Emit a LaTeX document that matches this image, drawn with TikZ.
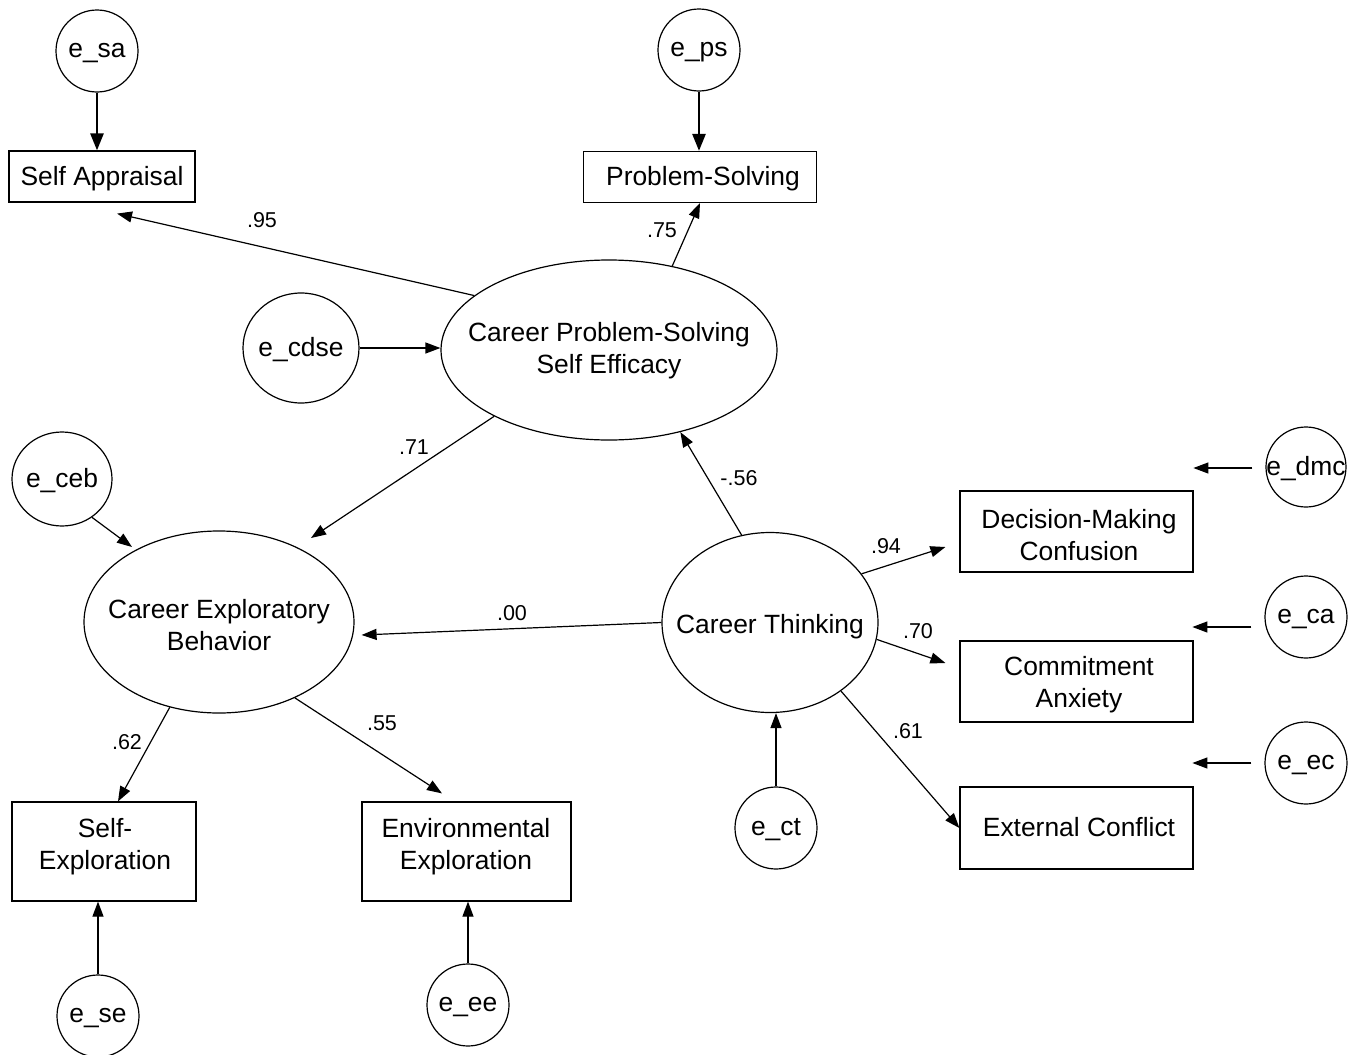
\documentclass[tikz,border=0pt]{standalone}
\usepackage{fontspec}
\setmainfont{Liberation Sans}
\usetikzlibrary{arrows.meta,calc,shapes.geometric}
\newcommand\nodefont{\fontsize{26.4}{32}\selectfont}
\newcommand\coeffont{\fontsize{21.5}{24}\selectfont}
\tikzset{
  latv/.style={draw, ellipse, line width=1.2pt, inner sep=0pt},
  errc/.style={draw, circle, minimum size=82pt, inner sep=0pt, line width=1.2pt},
  obs/.style={draw, rectangle, line width=1.2pt, inner sep=0pt},
  txt/.style={font=\nodefont, inner sep=0pt, align=center},
  arr/.style={line width=1.2pt, -{Triangle[length=15pt,width=11pt]}},
  arrthick/.style={line width=2.6pt, -{Triangle[length=17pt,width=13pt]}},
  coef/.style={font=\coeffont, inner sep=0pt},
}
\begin{document}
\begin{tikzpicture}[x=1pt,y=-1pt]
\useasboundingbox (0,0) rectangle (1353,1055);
% latent variables
\node[latv, minimum width=336pt, minimum height=180pt] (cpse) at (609,350) {};
\node[txt] (cpset) at (609,351) {Career Problem-Solving\\Self Efficacy};
\node[latv, minimum width=270pt, minimum height=182pt] (ceb) at (219,622) {};
\node[txt] (cebt) at (219,625) {Career Exploratory\\Behavior};
\node[latv, minimum width=216pt, minimum height=180pt] (ct) at (770,622.5) {};
\node[txt] (ctt) at (770,627) {Career Thinking};
% observed variables
\node[obs, minimum width=186pt, minimum height=51pt] (sa) at (102,176.5) {};
\node[txt] (sat) at (102,178.5) {Self Appraisal};
\node[obs, minimum width=233pt, minimum height=51pt] (ps) at (700,177) {};
\node[txt] (pst) at (703,179) {Problem-Solving};
\node[obs, minimum width=184pt, minimum height=99pt] (se) at (104,851.5) {};
\node[txt] (set) at (105,847) {Self-\\Exploration};
\node[obs, minimum width=209pt, minimum height=99pt] (ee) at (466.5,851.5) {};
\node[txt] (eet) at (466,847) {Environmental\\Exploration};
\node[obs, minimum width=233pt, minimum height=81pt] (dmc) at (1076.5,531.5) {};
\node[txt] (dmct) at (1079,535) {Decision-Making\\Confusion};
\node[obs, minimum width=233pt, minimum height=81pt] (ca) at (1076.5,681.5) {};
\node[txt] (cat) at (1079,685) {Commitment\\Anxiety};
\node[obs, minimum width=233pt, minimum height=82pt] (ec) at (1076.5,828) {};
\node[txt] (ect2) at (1079,827) {External Conflict};
% error terms
\node[errc] (esa) at (97,51) {};
\node[txt] (esat) at (97,53) {e\_sa};
\node[errc] (eps) at (699,50) {};
\node[txt] (epst) at (699,52) {e\_ps};
\node[latv, minimum width=116pt, minimum height=110pt] (ecdse) at (301,348) {};
\node[txt] (ecdset) at (301,350) {e\_cdse};
\node[latv, minimum width=100pt, minimum height=94pt] (eceb) at (62,479) {};
\node[txt] (ecebt) at (62,481) {e\_ceb};
\node[errc, minimum size=80pt] (edmc) at (1306,467) {};
\node[txt] (edmct) at (1306,469) {e\_dmc};
\node[errc] (eca) at (1306,617) {};
\node[txt] (ecat) at (1306,619) {e\_ca};
\node[errc] (eec) at (1306,763) {};
\node[txt] (eect) at (1306,765) {e\_ec};
\node[errc] (ect) at (776,828) {};
\node[txt] (ectt) at (776,830) {e\_ct};
\node[errc] (ese) at (98,1016) {};
\node[txt] (eset) at (98,1018) {e\_se};
\node[errc] (eee) at (468,1005) {};
\node[txt] (eeet) at (468,1007) {e\_ee};
% paths
\draw[arrthick] (esa.south) -- (esa.south |- sa.north);
\draw[arrthick] (eps.south) -- (eps.south |- ps.north);
\draw[arr] (cpse.158) -- ($(sa.south)+(15,11)$);
\draw[arr] (cpse.53) -- (ps.south);
\draw[arr] (ecdse.east) -- (ecdse.east -| cpse.west);
\draw[arr] (cpse.210) -- ($(ceb.center)+(92,-84)$);
\draw[arr] (eceb.-52) -- ($(ceb.center)+(-87,-75)$);
\draw[arr] (ct.west) -- ($(ceb.east)+(7,13)$);
\draw[arr] (ct.108) -- (cpse.311);
\draw[arr] (ct.28) -- ($(dmc.west)+(-14,15.5)$);
\draw[arr] (ct.351) -- ($(ca.west)+(-14,-18.5)$);
\draw[arr] (ct.316) -- (ec.west);
\draw[arr] (ect.north) -- (ect.north |- ct.south);
\draw[arr] (ceb.240) -- ($(se.north)+(14,0)$);
\draw[arr] (ceb.315) -- ($(ee.north)+(-24.5,-8)$);
\draw[arr] (ese.north) -- (ese.north |- se.south);
\draw[arr] (eee.north) -- (eee.north |- ee.south);
% floating residual arrows
\coordinate (dmcA) at ($(edmc.west)+(-13,1)$);
\coordinate (dmcB) at ($(edmc.west)+(-72,1)$);
\coordinate (caA) at ($(eca.west)+(-13,10)$);
\coordinate (caB) at ($(eca.west)+(-72,10)$);
\coordinate (ecA) at ($(eec.west)+(-13,0)$);
\coordinate (ecB) at ($(eec.west)+(-72,0)$);
\draw[arr] (dmcA) -- (dmcB);
\draw[arr] (caA) -- (caB);
\draw[arr] (ecA) -- (ecB);
% coefficients
\node[coef] (c95) at (262,220) {.95};
\node[coef] (c75) at (662,230) {.75};
\node[coef] (c71) at (414,447) {.71};
\node[coef] (c56) at (739,478) {-.56};
\node[coef] (c00) at (512,613) {.00};
\node[coef] (c94) at (886,546) {.94};
\node[coef] (c70) at (918,631) {.70};
\node[coef] (c61) at (908,731) {.61};
\node[coef] (c62) at (127,742) {.62};
\node[coef] (c55) at (382,723) {.55};
\end{tikzpicture}
\end{document}
